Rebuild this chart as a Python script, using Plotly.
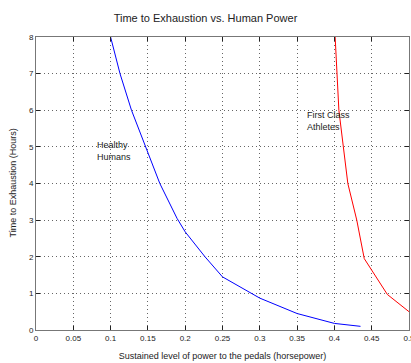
import plotly.graph_objects as go

# Healthy humans (blue)
healthy_power = [0.100, 0.1126, 0.128, 0.147, 0.166, 0.189, 0.200, 0.2265, 0.250, 0.300, 0.350, 0.400, 0.435]
healthy_hours = [8.0, 7.0, 6.0, 5.0, 4.0, 3.05, 2.68, 2.0, 1.45, 0.87, 0.45, 0.18, 0.10]

# First class athletes (red)
athlete_power = [0.401, 0.403, 0.406, 0.412, 0.418, 0.430, 0.440, 0.471, 0.500]
athlete_hours = [8.0, 7.0, 6.0, 5.0, 4.0, 3.0, 1.95, 0.97, 0.5]

x_ticks = [0, 0.05, 0.1, 0.15, 0.2, 0.25, 0.3, 0.35, 0.4, 0.45, 0.5]
x_tick_labels = ["0", "0.05", "0.1", "0.15", "0.2", "0.25", "0.3", "0.35", "0.4", "0.45", "0.5"]
y_ticks = [0, 1, 2, 3, 4, 5, 6, 7, 8]

font_family = "Liberation Sans, Arial, sans-serif"
W, H = 411, 363
ML, MR, MT, MB = 36, 2, 37, 33

fig = go.Figure()
fig.add_trace(go.Scatter(x=healthy_power, y=healthy_hours, mode="lines",
                         line=dict(color="blue", width=1), showlegend=False))
fig.add_trace(go.Scatter(x=athlete_power, y=athlete_hours, mode="lines",
                         line=dict(color="red", width=1), showlegend=False))

fig.add_annotation(x=0.079, y=4.9, xref="x", yref="y", text="Healthy<br>Humans",
                   showarrow=False, xanchor="left", align="left",
                   font=dict(family=font_family, size=9, color="#222"))
fig.add_annotation(x=0.36, y=5.7, xref="x", yref="y", text="First Class<br>Athletes",
                   showarrow=False, xanchor="left", align="left",
                   font=dict(family=font_family, size=9, color="#222"))
# y-axis title placed as rotated text near the left edge
fig.add_annotation(x=(12 - ML) / (W - ML - MR), y=0.5, xref="paper", yref="paper",
                   text="Time to Exhaustion (Hours)", textangle=-90, showarrow=False,
                   xanchor="center", yanchor="middle",
                   font=dict(family=font_family, size=9, color="#222"))

axis_common = dict(showline=True, linecolor="#777", linewidth=1, mirror="ticks",
                   ticks="inside", ticklen=4, tickcolor="#222",
                   showgrid=True, gridcolor="#666", griddash="1px,3px", gridwidth=1,
                   zeroline=False, automargin=False,
                   tickfont=dict(family=font_family, size=8, color="#222"))

fig.update_layout(
    width=W, height=H,
    margin=dict(l=ML, r=MR, t=MT, b=MB),
    paper_bgcolor="white", plot_bgcolor="white",
    title=dict(text="Time to Exhaustion vs. Human Power", x=0.5, xanchor="center",
               y=1 - 18 / H, yanchor="middle",
               font=dict(family=font_family, size=11, color="#222")),
    xaxis=dict(range=[0, 0.5], tickvals=x_ticks, ticktext=x_tick_labels,
               ticklabeloverflow="allow",
               title=dict(text="Sustained level of power to the pedals (horsepower)",
                          font=dict(family=font_family, size=9, color="#222"), standoff=11),
               **axis_common),
    yaxis=dict(range=[0, 8], tickvals=y_ticks, **axis_common),
)

fig.write_html("out.html")
